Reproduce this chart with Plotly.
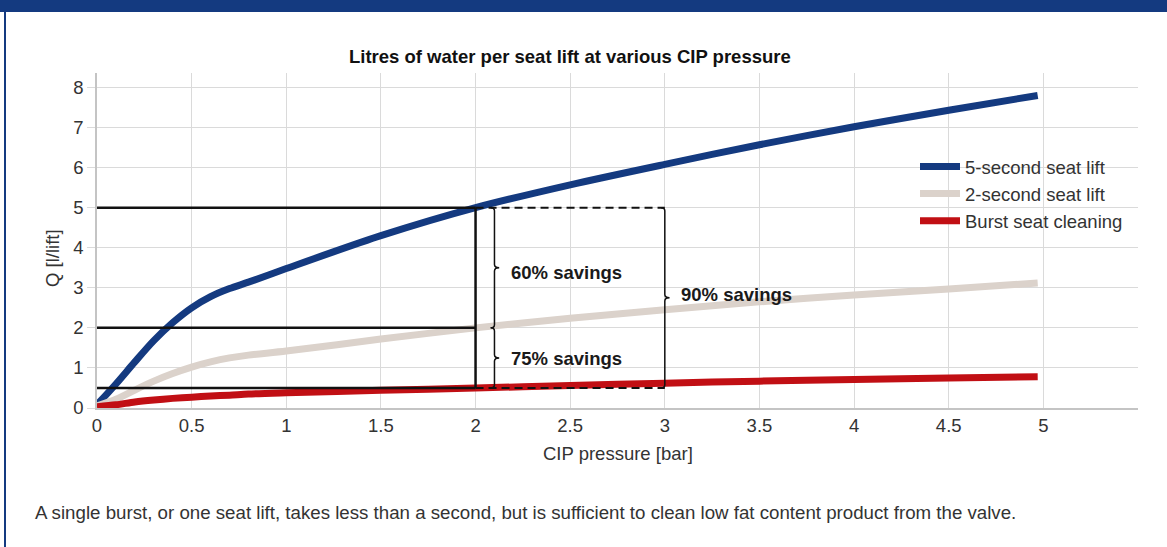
import plotly.graph_objects as go

# ---------------- data ----------------
pressure_5s = [0, 0.1, 0.2, 0.3, 0.4, 0.5, 0.6, 0.7, 0.8, 1.0, 1.5, 2.0, 2.5, 3.0, 3.5, 4.0, 4.5, 4.97]
q_5s = [0.08, 0.6, 1.15, 1.68, 2.13, 2.5, 2.78, 2.98, 3.14, 3.48, 4.3, 5.0, 5.57, 6.08, 6.57, 7.02, 7.43, 7.8]

pressure_2s = [0, 0.1, 0.2, 0.3, 0.4, 0.5, 0.6, 0.7, 0.8, 1.0, 1.5, 2.0, 2.5, 3.0, 3.5, 4.0, 4.5, 4.97]
q_2s = [0.05, 0.22, 0.45, 0.67, 0.86, 1.02, 1.15, 1.25, 1.32, 1.42, 1.72, 2.0, 2.24, 2.45, 2.65, 2.82, 2.97, 3.12]

pressure_burst = [0, 0.1, 0.2, 0.3, 0.4, 0.5, 0.6, 0.7, 0.8, 1.0, 1.5, 2.0, 2.5, 3.0, 3.5, 4.0, 4.5, 4.97]
q_burst = [0.03, 0.08, 0.15, 0.2, 0.24, 0.27, 0.3, 0.32, 0.35, 0.38, 0.44, 0.5, 0.56, 0.62, 0.67, 0.71, 0.75, 0.78]

series_names = ["5-second seat lift", "2-second seat lift", "Burst seat cleaning"]

x_ticks = [0, 0.5, 1, 1.5, 2, 2.5, 3, 3.5, 4, 4.5, 5, 5.5]
x_ticklabels = ["0", "0.5", "1", "1.5", "2", "2.5", "3", "3.5", "4", "4.5", "5", ""]
y_ticks = [0, 1, 2, 3, 4, 5, 6, 7, 8]

# reference levels for savings comparison (at 2 bar / 3 bar)
ref_pressure = 2.0
ref_levels = [5.0, 2.0, 0.5]          # 5 s, 2 s, burst at 2 bar
brace_pressure_inner = 2.1
brace_pressure_outer = 3.0
savings_labels = ["60% savings", "75% savings", "90% savings"]

title_text = "Litres of water per seat lift at various CIP pressure"
x_title = "CIP pressure [bar]"
y_title = "Q [l/lift]"
caption = ("A single burst, or one seat lift, takes less than a second, but is "
           "sufficient to clean low fat content product from the valve.")

# ---------------- style ----------------
BLUE = "#143a80"
BEIGE = "#dbd2cb"
RED = "#c10f14"
TXT = "#333333"
FONT = "Liberation Sans, Arial, sans-serif"
FS = 18.5

W, H = 1167, 547
ML, MR, MT, MB = 97, 29, 73, 139
PW, PH = W - ML - MR, H - MT - MB


def px2x(px):
    return (px - ML) / PW


def py2y(py):
    return (H - MB - py) / PH


fig = go.Figure()
for xs, ys, name, col in [
    (pressure_5s, q_5s, series_names[0], BLUE),
    (pressure_2s, q_2s, series_names[1], BEIGE),
    (pressure_burst, q_burst, series_names[2], RED),
]:
    fig.add_trace(go.Scatter(x=xs, y=ys, name=name, mode="lines",
                             line=dict(color=col, width=7, shape="spline", smoothing=0.8)))

shapes = []
blk = "#111111"
for lv in ref_levels:
    shapes.append(dict(type="line", xref="x", yref="y", x0=0, x1=ref_pressure, y0=lv, y1=lv,
                       line=dict(color=blk, width=2.5)))
shapes.append(dict(type="line", xref="x", yref="y", x0=ref_pressure, x1=ref_pressure,
                   y0=ref_levels[2], y1=ref_levels[0], line=dict(color=blk, width=2.5)))
for lv in (ref_levels[0], ref_levels[2]):
    shapes.append(dict(type="line", xref="x", yref="y", x0=ref_pressure, x1=brace_pressure_outer,
                       y0=lv, y1=lv, line=dict(color=blk, width=2, dash="8px,5px")))


def brace(xb, ytop, ybot, tip=0.025, hook=0.02, e=0.08):
    ym = (ytop + ybot) / 2
    p = (f"M {xb - hook},{ytop} Q {xb},{ytop} {xb},{ytop - e} "
         f"L {xb},{ym + e} Q {xb},{ym} {xb + tip},{ym} "
         f"Q {xb},{ym} {xb},{ym - e} "
         f"L {xb},{ybot + e} Q {xb},{ybot} {xb - hook},{ybot}")
    return dict(type="path", xref="x", yref="y", path=p, line=dict(color=blk, width=1.5))


shapes.append(brace(brace_pressure_inner, ref_levels[0], ref_levels[1]))
shapes.append(brace(brace_pressure_inner, ref_levels[1], ref_levels[2]))
shapes.append(brace(brace_pressure_outer, ref_levels[0], ref_levels[2]))

# frame decorations (top bar, left border)
shapes.append(dict(type="rect", xref="paper", yref="paper", x0=px2x(0), x1=px2x(W),
                   y0=py2y(12), y1=py2y(-5), line=dict(width=0), fillcolor=BLUE))
shapes.append(dict(type="line", xref="paper", yref="paper", x0=px2x(5), x1=px2x(5),
                   y0=py2y(H + 5), y1=py2y(10), line=dict(color=BLUE, width=2)))

annotations = []
ann_font = dict(family=FONT, size=FS, color="#1a1a1a")
mid_hi = (ref_levels[0] + ref_levels[1]) / 2
mid_lo = (ref_levels[1] + ref_levels[2]) / 2
mid_all = (ref_levels[0] + ref_levels[2]) / 2
for txt, xx, yy in [
    (savings_labels[0], brace_pressure_inner + 0.075, mid_hi - 0.12),
    (savings_labels[1], brace_pressure_inner + 0.075, mid_lo - 0.02),
    (savings_labels[2], brace_pressure_outer + 0.075, mid_all + 0.08),
]:
    annotations.append(dict(x=xx, y=yy, xref="x", yref="y", text=f"<b>{txt}</b>",
                            showarrow=False, xanchor="left", yanchor="middle", font=ann_font))

annotations.append(dict(x=px2x(570), y=py2y(57), xref="paper", yref="paper",
                        text=f"<b>{title_text}</b>", showarrow=False, xanchor="center",
                        yanchor="middle", font=dict(family=FONT, size=FS, color="#111111")))
annotations.append(dict(x=0.5, y=py2y(453), xref="paper", yref="paper", text=x_title,
                        showarrow=False, xanchor="center", yanchor="middle",
                        font=dict(family=FONT, size=FS, color=TXT)))
annotations.append(dict(x=px2x(52), y=py2y(258), xref="paper", yref="paper", text=y_title,
                        showarrow=False, xanchor="center", yanchor="middle", textangle=-90,
                        font=dict(family=FONT, size=FS, color=TXT)))
annotations.append(dict(x=px2x(33), y=py2y(512), xref="paper", yref="paper", text=caption,
                        showarrow=False, xanchor="left", yanchor="middle",
                        font=dict(family=FONT, size=18.7, color=TXT)))

fig.update_layout(
    width=W, height=H,
    margin=dict(l=ML, r=MR, t=MT, b=MB),
    paper_bgcolor="white", plot_bgcolor="white",
    font=dict(family=FONT, size=FS, color=TXT),
    showlegend=True,
    legend=dict(x=px2x(915), y=py2y(148), xanchor="left", yanchor="top",
                font=dict(family=FONT, size=FS, color=TXT), bgcolor="rgba(0,0,0,0)",
                itemwidth=40, tracegroupgap=0),
    shapes=shapes, annotations=annotations,
)
fig.update_xaxes(range=[0, 5.5], tickvals=x_ticks, ticktext=x_ticklabels,
                 showgrid=True, gridcolor="#dadada", gridwidth=1,
                 showline=True, linecolor="#c4c4c4", linewidth=1.5,
                 ticks="", zeroline=False, tickfont=dict(size=FS, color=TXT))
fig.update_yaxes(range=[0, 8.36], tickvals=y_ticks,
                 showgrid=True, gridcolor="#dadada", gridwidth=1,
                 showline=True, linecolor="#c4c4c4", linewidth=1.5,
                 ticks="outside", ticklen=8, tickcolor="#dadada",
                 zeroline=False, tickfont=dict(size=FS, color=TXT))

fig.write_html("out.html", config={"displayModeBar": False},
               post_script="document.body.style.margin='0';")
